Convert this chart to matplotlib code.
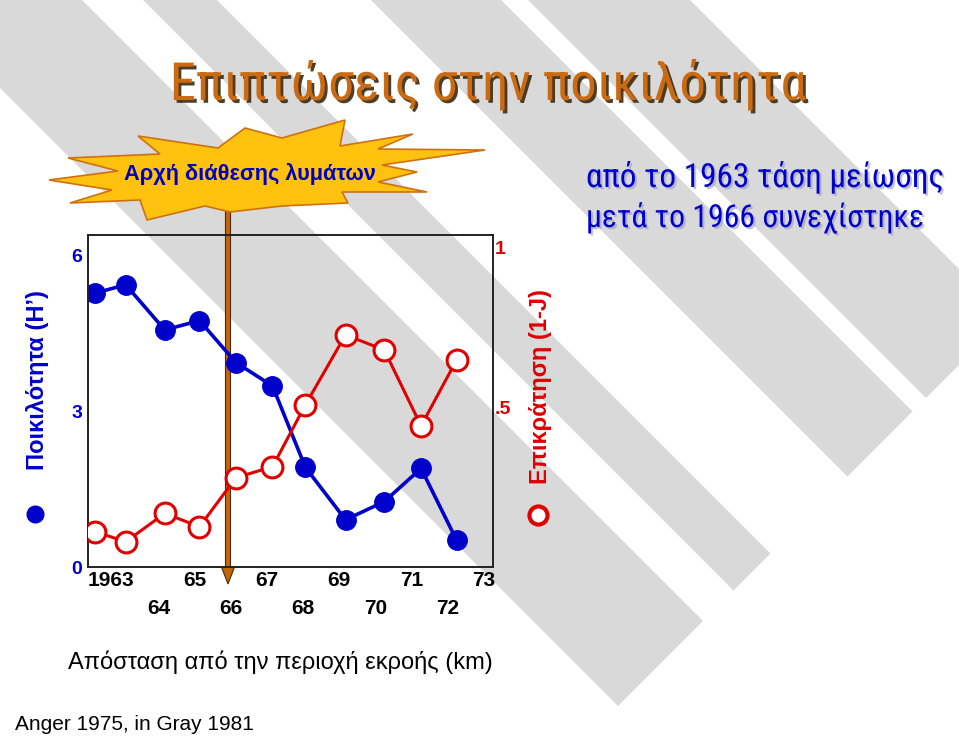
import numpy as np
import matplotlib
matplotlib.use("Agg")
import matplotlib.pyplot as plt
from matplotlib.patches import Polygon, FancyArrow
from matplotlib.transforms import ScaledTranslation
from matplotlib import font_manager as fm
import matplotlib.patheffects as pe

plt.rcParams['font.family'] = ['Liberation Sans', 'DejaVu Sans']


def first_font(names):
    for n in names:
        try:
            fm.findfont(fm.FontProperties(family=n), fallback_to_default=False)
            return n
        except ValueError:
            pass
    return 'Liberation Sans'


NARROW = [first_font(['Liberation Sans Narrow', 'Noto Sans Condensed', 'Roboto Condensed',
                      'Open Sans Condensed', 'Roboto']), 'DejaVu Sans']

# ── Data ──────────────────────────────────────────────
years = [1963, 1964, 1965, 1966, 1967, 1968, 1969, 1970, 1971, 1972, 1973]
tick_labels = ["1963", "64", "65", "66", "67", "68", "69", "70", "71", "72", "73"]
x_pos = [1963.0, 1963.85, 1964.93, 1965.89, 1966.9, 1967.91, 1968.82, 1969.93, 1971.0, 1972.02, 1973.0]
diversity = [5.28, 5.44, 4.57, 4.75, 3.94, 3.49, 1.92, 0.91, 1.26, 1.90, 0.52]        # H'
dominance = [0.111, 0.079, 0.168, 0.126, 0.280, 0.314, 0.508, 0.727, 0.680, 0.442, 0.648]  # 1-J
left_ticks = [0, 3, 6]
left_tick_labels = ["0", "3", "6"]
right_ticks = [0.5, 1.0]
right_tick_labels = [".5", "1"]

BLUE = '#0000cc'
RED = '#e00000'
ORANGE = '#cc6a12'

W, H = 959, 736
fig = plt.figure(figsize=(W / 100, H / 100), dpi=100)
renderer = fig.canvas.get_renderer()


def fit_width(t, target_px):
    # shrink/grow a text so it spans about target_px (narrow font may be missing)
    w = t.get_window_extent(renderer).width
    t.set_fontsize(t.get_fontsize() * target_px / w)


# ── background layer (pixel coordinates) ─────────────────
bg = fig.add_axes([0, 0, 1, 1], zorder=0)
bg.set_xlim(0, W)
bg.set_ylim(H, 0)
bg.axis('off')

# diagonal slide stripes: x - y between a and b, cut on x + y = S
S = 1324
for a, b in [(-88, 82), (143, 217), (371, 501), (528, 690)]:
    pts = [(a - 400, -400), ((S + a) / 2, (S - a) / 2),
           ((S + b) / 2, (S - b) / 2), (b - 400, -400)]
    bg.add_patch(Polygon(pts, closed=True, facecolor='#d9d9d9', edgecolor='none'))

# arrow marking start of waste disposal
bg.add_patch(FancyArrow(228, 200, 0, 384, width=5, head_width=13, head_length=17,
                        length_includes_head=True, fc='#c4660c', ec='#4a2a00', lw=0.8))

star = [(138, 136), (160, 154), (68, 158), (118, 171), (49, 180), (112, 190),
        (70, 203), (140, 200), (147, 220), (205, 206), (230, 212), (282, 206),
        (348, 203), (342, 192), (427, 192), (378, 182), (417, 172), (382, 165),
        (485, 150), (378, 149), (413, 134), (340, 146), (345, 120), (282, 138),
        (245, 128), (218, 148)]
bg.add_patch(Polygon(star, closed=True, facecolor='#ffc20e', edgecolor='#d07010', lw=1.2))
t = bg.text(250, 180, "Αρχή διάθεσης λυμάτων", ha='center', va='baseline',
            fontsize=15, fontweight='bold', color='#0000c0')
fit_width(t, 252)

# title
t = bg.text(488, 100, "Επιπτώσεις στην ποικιλότητα", ha='center', va='baseline',
            fontsize=37, color=ORANGE, family=NARROW,
            path_effects=[pe.withSimplePatchShadow(offset=(2, -2), shadow_rgbFace='#3a2a10', alpha=0.9)])
fit_width(t, 636)

# side note
for yb, line, wpx in [(187, "από το 1963 τάση μείωσης", 359), (227, "μετά το 1966 συνεχίστηκε", 339)]:
    t = bg.text(586, yb, line, ha='left', va='baseline', fontsize=23, color=BLUE, family=NARROW,
                path_effects=[pe.withSimplePatchShadow(offset=(1.5, -1.5), shadow_rgbFace='#9999bb', alpha=0.6)])
    fit_width(t, wpx)

# axis titles with legend symbols
bg.text(38, 380, "Ποικιλότητα (Η’)", rotation=90, ha='center', va='center',
        fontsize=17, fontweight='bold', color=BLUE)
bg.plot([35], [514], 'o', ms=12, color=BLUE)
bg.text(541, 387, "Επικράτηση (1-J)", rotation=90, ha='center', va='center',
        fontsize=17, fontweight='bold', color=RED)
bg.plot([538], [515], 'o', ms=13, mfc='white', mec=RED, mew=3)

bg.text(280, 662, "Απόσταση από την περιοχή εκροής (km)", ha='center', va='center',
        fontsize=17, color='black')
bg.text(15, 730, "Anger 1975, in Gray 1981", ha='left', va='baseline',
        fontsize=15, color='black')

# ── chart ──────────────────────────────────────────────
ax = fig.add_axes([88 / W, 1 - 567 / H, (493 - 88) / W, (567 - 235) / H], zorder=2)
ax.patch.set_visible(False)
ax2 = ax.twinx()
ax2.set_zorder(3)
ax2.patch.set_visible(False)

ax.plot(x_pos, diversity, '-o', color=BLUE, lw=2.6, ms=14, zorder=3)
ax2.plot(x_pos, dominance, '-o', color=RED, lw=2.2, ms=15, mfc='white', mec=RED, mew=2.2, zorder=3)

ax.set_xlim(1963 - 7 / 36.15, 1963 + 398 / 36.15)
ax.set_ylim(0, 6.4)
ax2.set_ylim(0, 1.04)

# year labels: odd years on the first row, even years on the second
ax.set_xticks(years)
ax.set_xticklabels(tick_labels, fontsize=15, fontweight='bold', ha='right')
ax.tick_params(axis='x', length=0, pad=3)
for i, lab in enumerate(ax.get_xticklabels()):
    dy = 0 if i % 2 == 0 else -28 / 100
    lab.set_transform(lab.get_transform() + ScaledTranslation(39 / 100, dy, fig.dpi_scale_trans))

ax.set_yticks(left_ticks)
ax.set_yticklabels(left_tick_labels, fontsize=14, fontweight='bold', color=BLUE)
ax.tick_params(axis='y', length=0, pad=4)
ax2.set_yticks(right_ticks)
ax2.set_yticklabels(right_tick_labels, fontsize=14, fontweight='bold', color=RED)
ax2.tick_params(axis='y', length=0, pad=1)

for a in (ax, ax2):
    for sp in a.spines.values():
        sp.set_linewidth(1.2)
        sp.set_color('#222222')

fig.savefig("out.png", dpi=100)
plt.close(fig)
